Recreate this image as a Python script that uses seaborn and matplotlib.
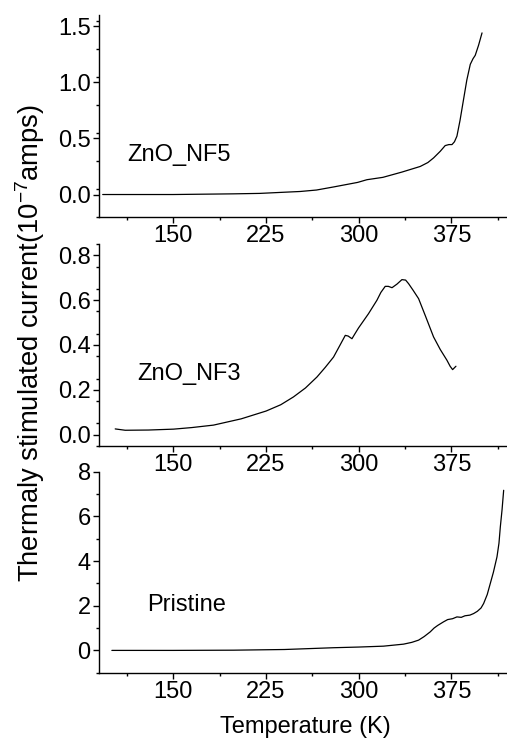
import numpy as np
import pandas as pd
import matplotlib
matplotlib.use("Agg")
import matplotlib.pyplot as plt
import seaborn as sns

# ZnO_NF5 panel
nf5_T = [93, 150, 198.6, 220, 239, 252.7, 265.9, 280, 299.2, 306.7, 319.6, 335, 349.8, 356, 360.6,
         366, 370, 373, 375.5, 377.5, 379.5, 382, 384.9, 387.5, 390.3, 392.5, 394.3, 397, 399.8]
nf5_V = [0.0, 0.0, 0.006, 0.01, 0.02, 0.027, 0.04, 0.068, 0.108, 0.132, 0.153, 0.2, 0.25, 0.285, 0.326,
         0.385, 0.436, 0.445, 0.445, 0.47, 0.52, 0.66, 0.85, 1.02, 1.16, 1.21, 1.24, 1.33, 1.44]

# ZnO_NF3 panel
nf3_T = [103.1, 111.2, 130, 150.3, 165, 182.6, 205, 225.2, 237, 247.3, 257, 266.3, 273, 279.7, 285, 289.2,
         291.5, 294.6, 297, 299.9, 308, 314.8, 318, 321.5, 324, 327, 331, 335, 338, 340.4, 344,
         348.5, 354, 360.6, 366, 371.4, 374, 376, 378.7]
nf3_V = [0.025, 0.019, 0.02, 0.024, 0.031, 0.042, 0.07, 0.105, 0.133, 0.168, 0.208, 0.257, 0.3, 0.346, 0.4, 0.443,
         0.44, 0.428, 0.45, 0.476, 0.54, 0.6, 0.635, 0.662, 0.662, 0.656, 0.672, 0.692, 0.69, 0.674, 0.645,
         0.607, 0.53, 0.436, 0.38, 0.332, 0.305, 0.29, 0.305]

# Pristine panel
pr_T = [100.4, 150, 198.8, 240, 279.7, 300, 320.1, 336.3, 343, 348.5, 353, 357.9, 361, 364, 368.7, 372, 376,
        379.5, 383, 386, 390, 393, 396, 399, 401.1, 404, 406.5, 409, 411.9, 413.5, 414.6, 416, 417.3]
pr_V = [0.0, 0.0, 0.01, 0.04, 0.12, 0.15, 0.19, 0.28, 0.36, 0.46, 0.62, 0.83, 1.0, 1.12, 1.28, 1.38, 1.42,
        1.5, 1.48, 1.55, 1.58, 1.65, 1.75, 1.9, 2.1, 2.5, 3.0, 3.5, 4.19, 4.8, 5.53, 6.3, 7.17]

x_ticks = [150, 225, 300, 375]
labels = ["ZnO_NF5", "ZnO_NF3", "Pristine"]

sns.set_theme(style="ticks")
plt.rcParams['font.family'] = ['Liberation Sans', 'DejaVu Sans']
plt.rcParams['text.color'] = 'black'
plt.rcParams['mathtext.fontset'] = 'custom'
plt.rcParams['mathtext.rm'] = 'Liberation Sans'
FS = 17

fig = plt.figure(figsize=(5.07, 7.40), dpi=100)
panels = [
    (nf5_T, nf5_V, (-0.2, 1.6), [0.0, 0.5, 1.0, 1.5], 0.25, [0.7068, 0.2730], "{:.1f}", (127, 155)),
    (nf3_T, nf3_V, (-0.05, 0.85), [0.0, 0.2, 0.4, 0.6, 0.8], 0.1, [0.3977, 0.2722], "{:.1f}", (137, 374)),
    (pr_T, pr_V, (-1, 8), [0, 2, 4, 6, 8], 1, [0.0909, 0.2716], "{:.0f}", (147, 605)),
]
W, H = 507, 740
for i, (T, V, ylim, yt, ymin, (b, h), fmt, (tx, ty)) in enumerate(panels):
    ax = fig.add_axes([99 / W, b, 1 - 99 / W, h])
    df = pd.DataFrame({"T": T, "V": V})
    sns.lineplot(data=df, x="T", y="V", ax=ax, color="black", linewidth=0.9, sort=False)
    ax.set_xlim(90, 420)
    ax.set_ylim(*ylim)
    ax.set_xticks(x_ticks)
    ax.set_xticks(np.arange(112.5, 420, 75), minor=True)
    ax.set_yticks(yt)
    ax.set_yticklabels([fmt.format(v) for v in yt])
    ax.set_yticks(np.arange(ylim[0], ylim[1] + 1e-9, ymin), minor=True)
    ax.set_ylim(*ylim)
    ax.set_xlabel("")
    ax.set_ylabel("")
    for s in ["top", "right"]:
        ax.spines[s].set_visible(False)
    for s in ["left", "bottom"]:
        ax.spines[s].set_linewidth(1.0)
        ax.spines[s].set_color("black")
    ax.tick_params(which="major", direction="out", length=4, width=1, labelsize=FS, pad=2, colors="black")
    ax.tick_params(which="minor", direction="out", length=2.5, width=1, colors="black")
    ax.text(tx / W, 1 - ty / H, labels[i], transform=fig.transFigure, fontsize=FS, va="center", ha="left",
            color="black")
    ax.set_facecolor("white")

fig.text(30 / W, 1 - 342.5 / H, "Thermaly stimulated current(10$^{\\mathrm{-7}}$amps)", rotation=90,
         fontsize=19.7, va="center", ha="center", color="black")
fig.text(305 / W, 1 - 727 / H, "Temperature (K)", fontsize=FS, va="center", ha="center", color="black")
fig.savefig("out.png", dpi=100, facecolor="white")
